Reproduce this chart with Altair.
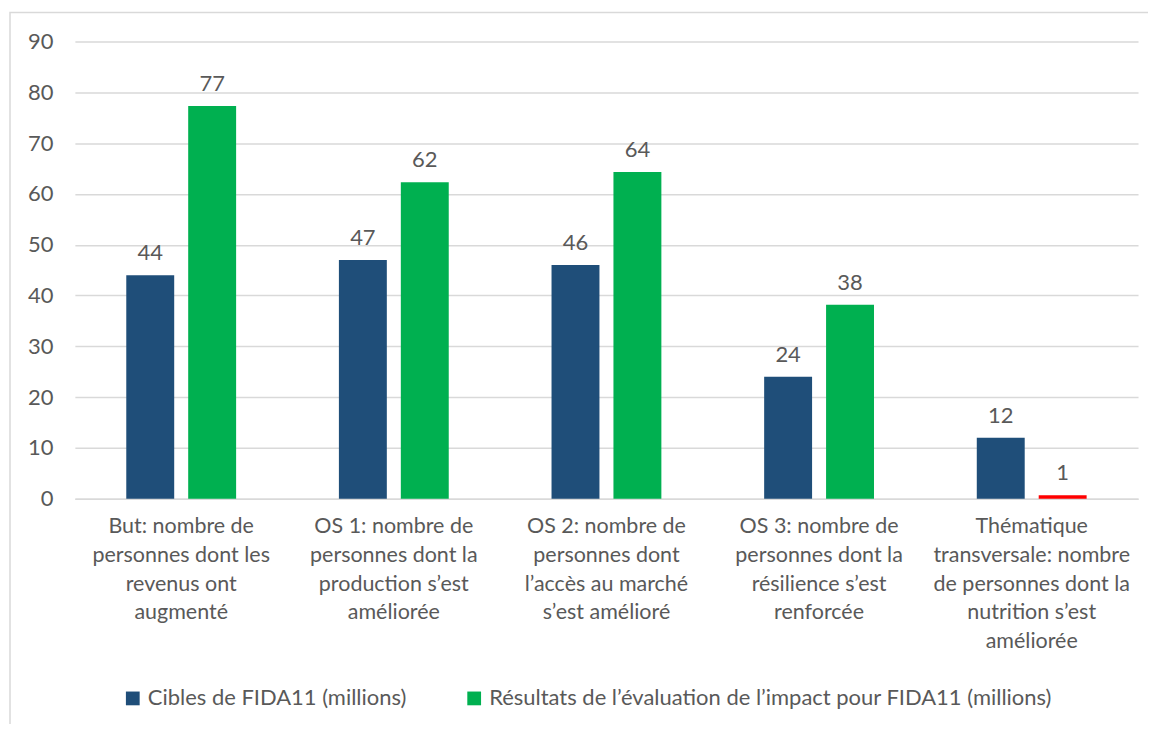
import altair as alt
import pandas as pd

categories = [
    "But: nombre de|personnes dont les|revenus ont|augmenté",
    "OS 1: nombre de|personnes dont la|production s’est|améliorée",
    "OS 2: nombre de|personnes dont|l’accès au marché|s’est amélioré",
    "OS 3: nombre de|personnes dont la|résilience s’est|renforcée",
    "Thématique|transversale: nombre|de personnes dont la|nutrition s’est|améliorée",
]
series = ["Cibles de FIDA11 (millions)", "Résultats de l’évaluation de l’impact pour FIDA11 (millions)"]
targets = [44, 47, 46, 24, 12]
results = [77.3, 62.3, 64.3, 38.2, 0.7]
colors = ["#1F4E79", "#00B050"]
highlight = [False, False, False, False, True]

rows = []
for i, c in enumerate(categories):
    rows.append({"cat": c, "series": series[0], "value": targets[i], "red": False})
    rows.append({"cat": c, "series": series[1], "value": results[i], "red": highlight[i]})
df = pd.DataFrame(rows)

FONT = "Lato"
TXT = "#595959"

base = alt.Chart(df)

x = alt.X("cat:N", sort=categories, title=None,
          scale=alt.Scale(paddingInner=0, paddingOuter=0),
          axis=alt.Axis(labelExpr="split(datum.label, '|')", labelAngle=0,
                        labelFontSize=21.5, labelColor=TXT, labelFont=FONT,
                        labelLineHeight=28.7, labelPadding=17, labelBaseline="top",
                        ticks=False, domainColor="#D9D9D9", domainWidth=1.5,
                        labelLimit=300, grid=False))
xo = alt.XOffset("series:N", sort=series,
                 scale=alt.Scale(paddingInner=0.226, paddingOuter=0.83))
y = alt.Y("value:Q", title=None,
          scale=alt.Scale(domain=[0, 90], nice=False),
          axis=alt.Axis(values=list(range(0, 91, 10)), labelFontSize=22,
                        labelColor=TXT, labelFont=FONT, labelPadding=22,
                        ticks=False, domain=False, gridColor="#D9D9D9",
                        gridWidth=1.5))

bars = base.mark_bar(stroke=None).encode(
    x=x, xOffset=xo, y=y,
    color=alt.condition(
        "datum.red",
        alt.value("#FF0000"),
        alt.Color("series:N", sort=series,
                  scale=alt.Scale(domain=series, range=colors),
                  legend=alt.Legend(title=None, orient="none", direction="horizontal",
                                    legendX=47, legendY=647, symbolType="square",
                                    symbolSize=190, symbolStrokeWidth=0,
                                    labelFontSize=22, labelColor=TXT, labelFont=FONT,
                                    labelOffset=4, columnPadding=56, labelLimit=900)),
    ),
)

labels = base.mark_text(baseline="bottom", dy=-10, fontSize=22, color=TXT, font=FONT).encode(
    x=x, xOffset=xo, y=y,
    text=alt.Text("value:Q", format=".0f"),
)

frame = alt.Chart(alt.Data(values=[{"a": 1}])).mark_rect(
    fill=None, stroke="#D9D9D9", strokeWidth=1.5
).encode(
    x=alt.value(-65), x2=alt.value(1300), y=alt.value(-29), y2=alt.value(1200)
)

chart = alt.layer(frame, bars, labels).properties(
    width=1065, height=458,
    autosize=alt.AutoSizeParams(type="none"),
    padding={"left": 67, "top": 33, "right": 10, "bottom": 225},
).configure_view(stroke=None)

chart.save("out.html", embed_options={"renderer": "svg", "actions": False})
